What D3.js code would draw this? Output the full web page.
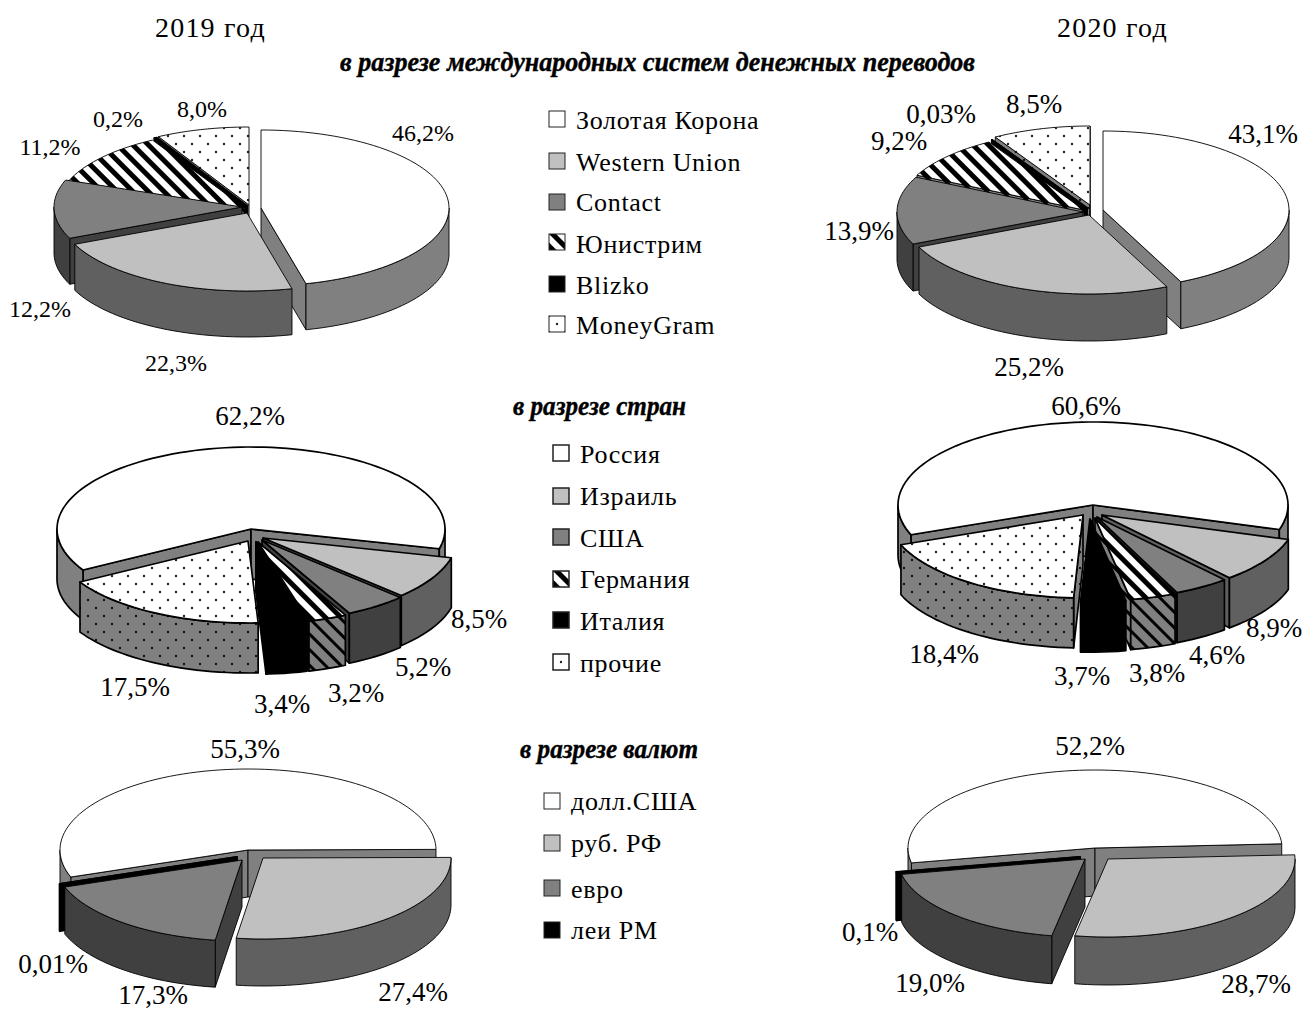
<!DOCTYPE html>
<html lang="ru">

<head>
    <meta charset="UTF-8">
    <title>Денежные переводы</title>
    <script src="https://cdn.jsdelivr.net/npm/d3@7"></script>
    <style>
        body { margin: 0; background: #fff; }
        svg { display: block; }
        text { font-family: "Liberation Serif", serif; fill: #000; }
    </style>
</head>

<body>
    <div id="app"></div>
    <script>
        // data
        var years = ["2019 год", "2020 год"];
        var sections = ["в разрезе международных систем денежных переводов", "в разрезе стран", "в разрезе валют"];

        var systems = ["Золотая Корона", "Western Union", "Contact", "Юнистрим", "Blizko", "MoneyGram"];
        var countries = ["Россия", "Израиль", "США", "Германия", "Италия", "прочие"];
        var currencies = ["долл.США", "руб. РФ", "евро", "леи РМ"];

        var systems2019 = [46.2, 22.3, 12.2, 11.2, 0.2, 8.0];
        var systems2020 = [43.1, 25.2, 13.9, 9.2, 0.03, 8.5];
        var countries2019 = [62.2, 8.5, 5.2, 3.2, 3.4, 17.5];
        var countries2020 = [60.6, 8.9, 4.6, 3.8, 3.7, 18.4];
        var currencies2019 = [55.3, 27.4, 17.3, 0.01];
        var currencies2020 = [52.2, 28.7, 19.0, 0.1];

        // fills: top of the slice and its wall
        var topFill = {
            white: "#fff", light: "#c0c0c0", gray: "#808080",
            stripes: "url(#stripesTop)", black: "#000", dots: "url(#dotsTop)"
        };
        var sideFill = {
            white: "#808080", light: "#606060", gray: "#404040",
            stripes: "url(#stripesSide)", black: "#000", dots: "url(#dotsSide)"
        };
        var sixKinds = ["white", "light", "gray", "stripes", "black", "dots"];
        var fourKinds = ["white", "light", "gray", "black"];

        // layout of every pie: centre, radii, depth, start angle (deg), shift of each slice, label spots
        var pies = [
            {
                values: systems2019, kinds: sixKinds, cx: 247, cy: 207, rx: 188, ry: 78, depth: 46, start: 0, sw: 0.9, font: 24,
                shift: [[14, 1], [0, 6], [-5, 0], [-2, 1], [0, -1], [2, -2]],
                labels: [[423, 141], [176, 371], [40, 317], [50, 155], [118, 127], [202, 117]]
            },
            {
                values: systems2020, kinds: sixKinds, cx: 1086, cy: 209, rx: 186, ry: 79, depth: 47, start: 0, sw: 0.9, font: 27,
                shift: [[17, 1], [3, 6], [-3, 3], [-2, 1], [1, -1], [4, -4]],
                labels: [[1263, 143], [1029, 376], [859, 240], [899, 150], [941, 123], [1034, 113]]
            },
            {
                values: countries2019, kinds: sixKinds, cx: 251, cy: 529, rx: 194, ry: 82, depth: 50, start: 240, sw: 1.7, font: 27,
                shift: [[0, 0], [12, 9], [11, 11], [7, 13], [5, 13], [-3, 12]],
                labels: [[250, 425], [479, 628], [423, 676], [356, 702], [282, 713], [135, 696]]
            },
            {
                values: countries2020, kinds: sixKinds, cx: 1093, cy: 505, rx: 195, ry: 83, depth: 50, start: 249, sw: 1.7, font: 27,
                shift: [[0, 0], [9, 10], [4, 12], [2, 13], [-3, 14], [-10, 10]],
                labels: [[1086, 415], [1274, 637], [1217, 664], [1157, 682], [1082, 685], [944, 663]]
            },
            {
                values: currencies2019, kinds: fourKinds, cx: 248, cy: 850, rx: 188, ry: 81, depth: 47, start: 250.5, sw: 0.9, font: 27,
                shift: [[0, 0], [15, 8], [-6, 10], [-11, 7]],
                labels: [[245, 758], [413, 1001], [153, 1004], [53, 973]]
            },
            {
                values: currencies2020, kinds: fourKinds, cx: 1095, cy: 848, rx: 187, ry: 78, depth: 48, start: 259, sw: 0.9, font: 27,
                shift: [[0, 0], [13, 11], [-10, 11], [-15, 9]],
                labels: [[1090, 755], [1256, 993], [930, 992], [870, 941]]
            }
        ];

        var legends = [
            { names: systems, kinds: sixKinds, x: 549, text: 576, ys: [119, 161, 202, 242, 284, 324], base: [129, 171, 211, 253, 294, 334], sw: 1 },
            { names: countries, kinds: sixKinds, x: 553, text: 580, ys: [453, 496, 537, 579, 620, 662], base: [463, 505, 547, 588, 630, 672], sw: 1.5 },
            { names: currencies, kinds: fourKinds, x: 544, text: 571, ys: [801, 843, 888, 930], base: [810, 852, 898, 939], sw: 1 }
        ];

        var width = 1304;
        var height = 1010;

        var svg = d3.select("#app")
            .append("svg")
            .attr("width", width)
            .attr("height", height);

        // hatch patterns
        var defs = svg.append("defs");
        function stripes(id, back, band) {
            var p = defs.append("pattern")
                .attr("id", id)
                .attr("patternUnits", "userSpaceOnUse")
                .attr("width", 11)
                .attr("height", 11)
                .attr("patternTransform", "rotate(-45)");
            p.append("rect").attr("width", 11).attr("height", 11).attr("fill", back);
            p.append("rect").attr("width", band).attr("height", 11).attr("fill", "#000");
        }
        function dots(id, back, dot) {
            var p = defs.append("pattern")
                .attr("id", id)
                .attr("patternUnits", "userSpaceOnUse")
                .attr("width", 16)
                .attr("height", 16);
            p.append("rect").attr("width", 16).attr("height", 16).attr("fill", back);
            [[0, 0], [16, 0], [0, 16], [16, 16], [8, 8]].forEach(function (c) {
                p.append("circle").attr("cx", c[0]).attr("cy", c[1]).attr("r", 1.2).attr("fill", dot);
            });
        }
        stripes("stripesTop", "#fff", 5);
        stripes("stripesSide", "#808080", 3);
        dots("dotsTop", "#fff", "#222");
        dots("dotsSide", "#808080", "#111");

        var line = d3.line();
        var toRad = Math.PI / 180;

        function sweep(a0, a1) {
            return d3.range(a0, a1, 0.04).concat([a1]);
        }

        function drawPie(cfg) {
            var start = cfg.start * toRad;
            var arcs = d3.pie().sort(null).startAngle(start).endAngle(start + 2 * Math.PI)(cfg.values);

            var slices = arcs.map(function (d, i) {
                return {
                    a0: d.startAngle,
                    a1: d.endAngle,
                    kind: cfg.kinds[i],
                    x: cfg.cx + cfg.shift[i][0],
                    y: cfg.cy + cfg.shift[i][1]
                };
            });
            // back slices first
            slices.sort(function (p, q) {
                return -Math.cos((p.a0 + p.a1) / 2) + Math.cos((q.a0 + q.a1) / 2);
            });

            var g = svg.append("g")
                .attr("stroke", "#000")
                .attr("stroke-width", cfg.sw)
                .attr("stroke-linejoin", "round");

            slices.forEach(function (s) {
                var rim = function (a, down) {
                    return [s.x + cfg.rx * Math.sin(a), s.y - cfg.ry * Math.cos(a) + (down || 0)];
                };
                var side = sideFill[s.kind];
                var thick = s.kind == "black" ? Math.max(cfg.sw, 2) : cfg.sw;

                // radial walls that face the viewer
                [[s.a0, Math.sin(s.a0) < 0], [s.a1, Math.sin(s.a1) > 0]].forEach(function (w) {
                    if (!w[1]) return;
                    var e = rim(w[0]);
                    g.append("path")
                        .attr("d", line([[s.x, s.y], e, [e[0], e[1] + cfg.depth], [s.x, s.y + cfg.depth]]) + "Z")
                        .attr("fill", side)
                        .attr("stroke-width", thick);
                });

                // outer wall, only the front half of the ellipse
                [0, 1].forEach(function (k) {
                    var from = Math.max(s.a0, Math.PI / 2 + 2 * Math.PI * k);
                    var to = Math.min(s.a1, 3 * Math.PI / 2 + 2 * Math.PI * k);
                    if (to <= from) return;
                    var upper = sweep(from, to).map(function (a) { return rim(a); });
                    var lower = sweep(from, to).reverse().map(function (a) { return rim(a, cfg.depth); });
                    g.append("path")
                        .attr("d", line(upper.concat(lower)) + "Z")
                        .attr("fill", side)
                        .attr("stroke-width", thick);
                });

                // top
                var top = [[s.x, s.y]].concat(sweep(s.a0, s.a1).map(function (a) { return rim(a); }));
                g.append("path")
                    .attr("d", line(top) + "Z")
                    .attr("fill", topFill[s.kind])
                    .attr("stroke-width", thick);
            });

            // percent labels
            var comma = d3.formatLocale({ decimal: ",", thousands: " ", grouping: [3], currency: ["", ""] });
            var oneDigit = comma.format(".1f");
            var twoDigits = comma.format(".2f");
            svg.selectAll(null)
                .data(cfg.values)
                .enter()
                .append("text")
                .attr("x", function (d, i) { return cfg.labels[i][0]; })
                .attr("y", function (d, i) { return cfg.labels[i][1]; })
                .attr("text-anchor", "middle")
                .attr("font-size", cfg.font)
                .text(function (d) { return (d < 0.1 ? twoDigits(d) : oneDigit(d)) + "%"; });
        }

        pies.forEach(drawPie);

        // legends
        legends.forEach(function (leg) {
            leg.names.forEach(function (name, i) {
                var sw = svg.append("g")
                    .attr("transform", "translate(" + leg.x + "," + (leg.ys[i] - 8) + ")");
                sw.append("rect")
                    .attr("width", 16)
                    .attr("height", 16)
                    .attr("fill", topFill[leg.kinds[i]])
                    .attr("stroke", "#222")
                    .attr("stroke-width", leg.sw);
                svg.append("text")
                    .attr("x", leg.text)
                    .attr("y", leg.base[i])
                    .attr("font-size", 26)
                    .attr("letter-spacing", 0.7)
                    .text(name);
            });
        });

        // headers
        svg.selectAll(".year")
            .data(years)
            .enter()
            .append("text")
            .attr("class", "year")
            .attr("x", function (d, i) { return i == 0 ? 155 : 1057; })
            .attr("y", 37)
            .attr("font-size", 28)
            .attr("letter-spacing", 1.2)
            .text(function (d) { return d; });

        var sectionSpots = [[340, 71, 635], [513, 415, 173], [520, 758, 178]];
        svg.selectAll(".section")
            .data(sections)
            .enter()
            .append("text")
            .attr("class", "section")
            .attr("x", function (d, i) { return sectionSpots[i][0]; })
            .attr("y", function (d, i) { return sectionSpots[i][1]; })
            .attr("textLength", function (d, i) { return sectionSpots[i][2]; })
            .attr("lengthAdjust", "spacingAndGlyphs")
            .attr("font-size", 28)
            .attr("font-weight", "bold")
            .attr("font-style", "italic")
            .attr("stroke", "#000")
            .attr("stroke-width", 0.4)
            .text(function (d) { return d; });
    </script>
</body>

</html>
